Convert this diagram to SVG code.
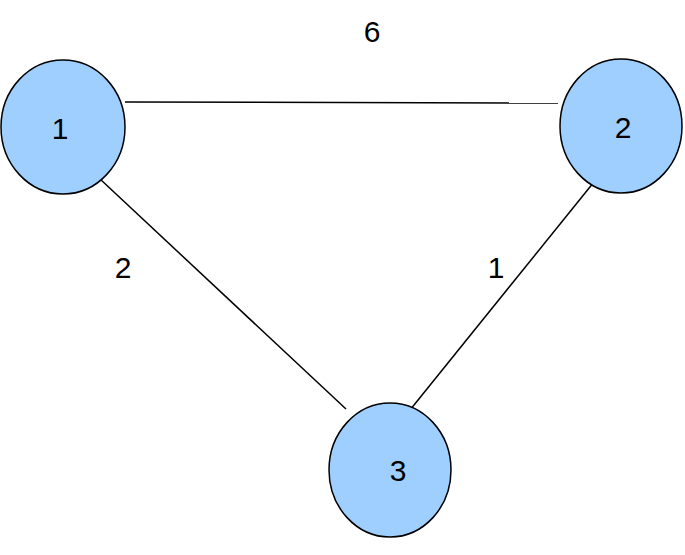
<svg xmlns="http://www.w3.org/2000/svg" width="685" height="555" viewBox="0 0 685 555">
<style>
.n{fill:#9fcfff;stroke:#000;stroke-width:1.5}
.t{font-family:"Liberation Sans",Arial,sans-serif;font-size:30px;fill:#000}
.e{stroke:#000;stroke-width:1.5;fill:none}
</style>
<rect width="685" height="555" fill="#fff"/>
<g id="connectors">
<line class="e" x1="125" y1="102" x2="558" y2="103"/>
<line class="e" x1="100" y1="179" x2="346" y2="409"/>
<line class="e" x1="598" y1="177" x2="410" y2="410"/>
</g>
<g id="labels">
<text class="t" x="372" y="42" text-anchor="middle">6</text>
<text class="t" x="123" y="278" text-anchor="middle">2</text>
<text class="t" x="496" y="278" text-anchor="middle">1</text>
</g>
<g id="node1"><ellipse class="n" cx="63" cy="127" rx="62" ry="67"/><text class="t" x="60" y="139" text-anchor="middle">1</text></g>
<g id="node2"><ellipse class="n" cx="621" cy="126" rx="61" ry="67"/><text class="t" x="623" y="138" text-anchor="middle">2</text></g>
<g id="node3"><ellipse class="n" cx="390" cy="470" rx="61" ry="67"/><text class="t" x="398" y="481" text-anchor="middle">3</text></g>
</svg>
